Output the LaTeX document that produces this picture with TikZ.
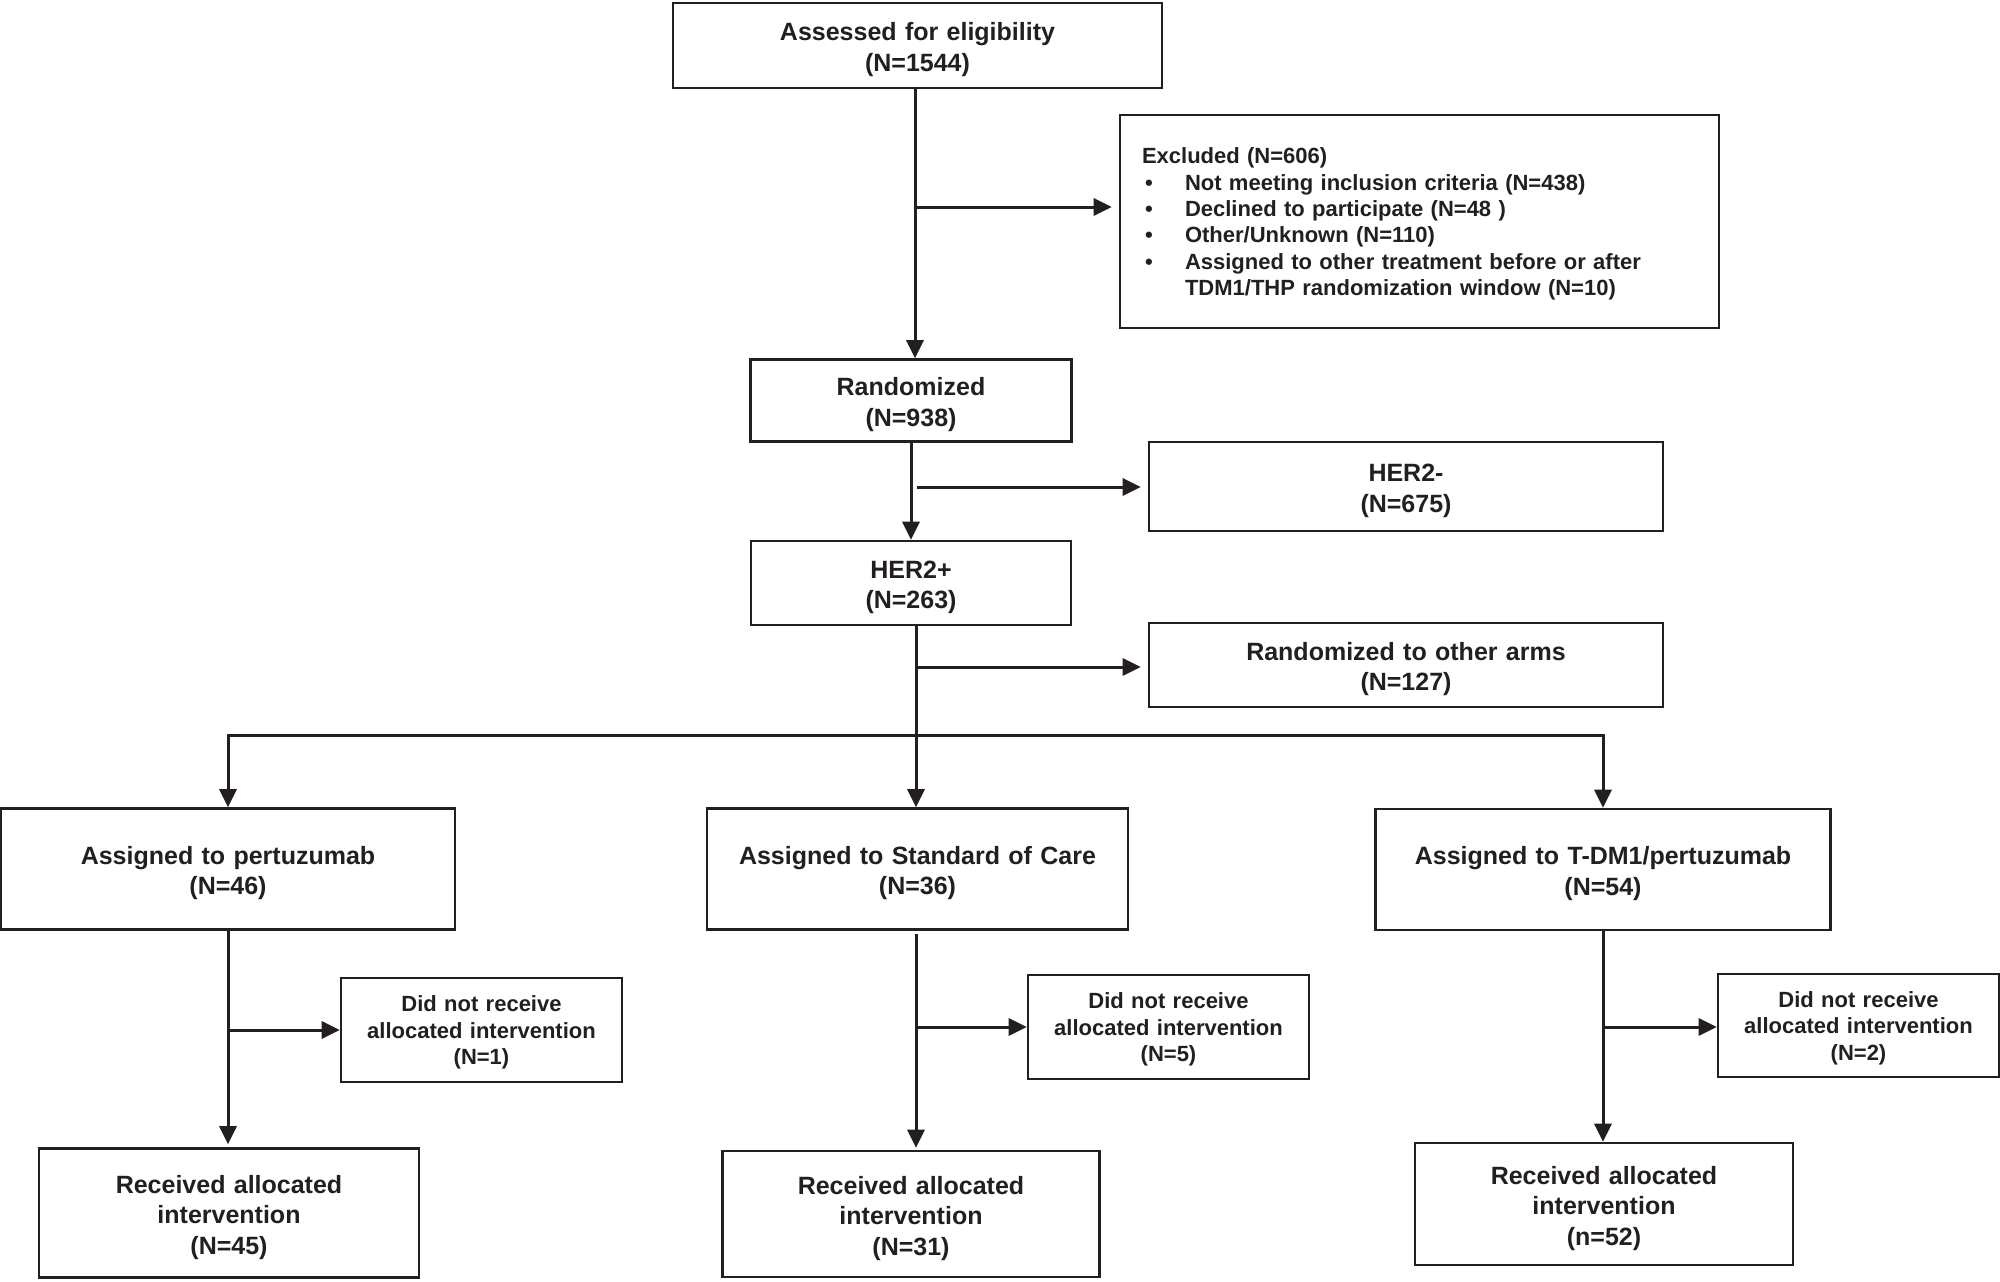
\documentclass[tikz,border=0pt]{standalone}
\usepackage{fontspec}
\setmainfont{Liberation Sans}
\usetikzlibrary{arrows.meta}
\definecolor{ink}{HTML}{231F20}
\begin{document}
\begin{tikzpicture}[x=1pt,y=-1pt,
  box/.style={draw=ink, line width=2.6pt, inner sep=0pt, align=center, text=ink,
    font=\fontsize{25}{30.5}\selectfont\bfseries,
    execute at begin node={\rule{0pt}{26.3pt}}},
  smallbox/.style={draw=ink, line width=2.6pt, inner sep=0pt, align=center, text=ink,
    font=\fontsize{22}{26.5}\selectfont\bfseries,
    execute at begin node={\rule{0pt}{21pt}}},
  listbox/.style={draw=ink, line width=2.6pt, inner ysep=0pt, inner xsep=22pt, align=left, text=ink,
    font=\fontsize{22}{26.3}\selectfont\bfseries,
    execute at begin node={\rule{0pt}{21pt}}},
  sz/.style n args={2}{minimum width=#1pt, text width=#1pt, minimum height=#2pt},
  arr/.style={draw=ink, line width=3pt, line cap=rect, -{Triangle[length=18pt,width=17pt]}},
  ln/.style={draw=ink, line width=3pt, line cap=rect}]
\fill[white] (0,0) rectangle (2000,1282);
\useasboundingbox (0,0) rectangle (2000,1282);

% boxes
\node[box, sz={489}{85}] (assess) at (917.5,45.5) {Assessed for eligibility\\(N=1544)};
\node[listbox, minimum width=599, minimum height=213, text width=555] (excl) at (1419.5,221.5)
  {Excluded (N=606)\\
   \makebox[43pt][l]{\hspace{3pt}\textbullet}Not meeting inclusion criteria (N=438)\\
   \makebox[43pt][l]{\hspace{3pt}\textbullet}Declined to participate (N=48 )\\
   \makebox[43pt][l]{\hspace{3pt}\textbullet}Other/Unknown (N=110)\\
   \makebox[43pt][l]{\hspace{3pt}\textbullet}Assigned to other treatment before or after\\
   \hspace*{43pt}TDM1/THP randomization window (N=10)};
\node[box, sz={321}{82}] (rand) at (911,400.5) {Randomized\\(N=938)};
\node[box, sz={514}{89}] (hneg) at (1406,486.5) {HER2-\\(N=675)};
\node[box, sz={320}{84}] (hpos) at (911,583) {HER2+\\(N=263)};
\node[box, sz={514}{84}] (other) at (1406,665) {Randomized to other arms\\(N=127)};

\node[box, sz={454}{121}] (pert) at (228,869) {Assigned to pertuzumab\\(N=46)};
\node[box, sz={421}{121}] (soc) at (917.5,869) {Assigned to Standard of Care\\(N=36)};
\node[box, sz={455}{121}] (tdm) at (1603,869.5) {Assigned to T-DM1/pertuzumab\\(N=54)};

\node[smallbox, sz={281}{104}] (dnr1) at (481.5,1030) {Did not receive\\allocated intervention\\(N=1)};
\node[smallbox, sz={281}{104}] (dnr2) at (1168.5,1027) {Did not receive\\allocated intervention\\(N=5)};
\node[smallbox, sz={281}{103}] (dnr3) at (1858.5,1025.5) {Did not receive\\allocated intervention\\(N=2)};

\node[box, sz={380}{129}] (rec1) at (229,1213) {Received allocated\\intervention\\(N=45)};
\node[box, sz={377}{126}] (rec2) at (911,1214) {Received allocated\\intervention\\(N=31)};
\node[box, sz={378}{122}] (rec3) at (1604,1204) {Received allocated\\intervention\\(n=52)};

% connectors
\coordinate (s1) at (915,0);
\draw[arr] (assess.south -| s1) -- (rand.north -| s1);
\coordinate (e1) at (915,207);
\draw[arr, shorten >=7pt] (e1) -- (e1 -| excl.west);

\draw[arr] (rand.south) -- (hpos.north);
\coordinate (h1) at (918,487);
\draw[arr, shorten >=7pt] (h1) -- (h1 -| hneg.west);

\coordinate (s2) at (916,0);
\draw[arr] (hpos.south -| s2) -- (soc.north -| s2);
\coordinate (o1) at (916,667);
\draw[arr, shorten >=7pt] (o1) -- (o1 -| other.west);

\coordinate (br) at (916,735);
\draw[ln] (pert.north |- br) -- (tdm.north |- br);
\draw[arr] (pert.north |- br) -- (pert.north);
\draw[arr] (tdm.north |- br) -- (tdm.north);

\draw[arr, shorten >=3pt] (pert.south) -- (pert.south |- rec1.north);
\coordinate (l1) at (228,1030);
\draw[arr] (l1) -- (dnr1.west |- l1);

\coordinate (m0) at (916,935);
\draw[arr, shorten >=2pt] (m0) -- (rec2.north -| m0);
\coordinate (m1) at (916,1027);
\draw[arr] (m1) -- (dnr2.west |- m1);

\draw[arr] (tdm.south) -- (tdm.south |- rec3.north);
\coordinate (r1) at (1603,1027);
\draw[arr] (r1) -- (dnr3.west |- r1);
\end{tikzpicture}
\end{document}
